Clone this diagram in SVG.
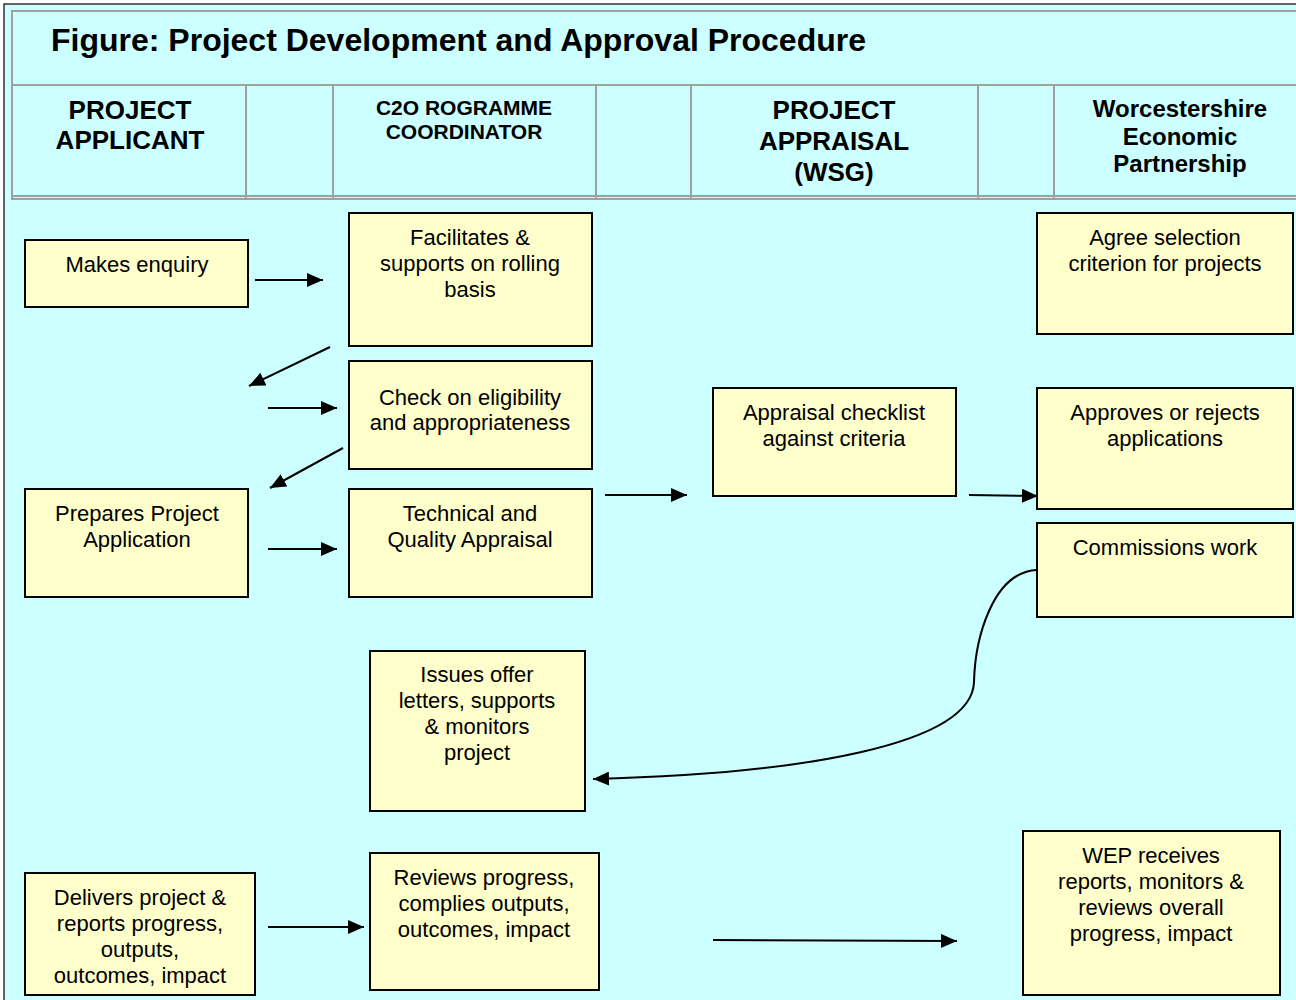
<svg xmlns="http://www.w3.org/2000/svg" width="1296" height="1000" viewBox="0 0 1296 1000">
<style>
  .box { fill: #FFFFCC; stroke: #000; stroke-width: 2; }
  .t { font-family: "Liberation Sans", Arial, sans-serif; font-size: 22px; fill: #000; text-anchor: middle; }
  .h { font-family: "Liberation Sans", Arial, sans-serif; font-weight: bold; fill: #000; text-anchor: middle; }
  .title { font-family: "Liberation Sans", Arial, sans-serif; font-weight: bold; font-size: 32px; fill: #000; text-anchor: start; }
  .grid { stroke: #A0A0A0; stroke-width: 2; fill: none; }
  .con { stroke: #000; stroke-width: 2; fill: none; marker-end: url(#ah); }
</style>
<defs>
  <marker id="ah" markerUnits="userSpaceOnUse" markerWidth="16" markerHeight="14" refX="16" refY="7" orient="auto">
    <path d="M0,0 L16,7 L0,14 z" fill="#000"/>
  </marker>
</defs>
<rect x="0" y="0" width="1296" height="1000" fill="#FFFFFF"/>
<rect x="4" y="4" width="1300" height="1000" fill="#CCFFFF" stroke="#333" stroke-width="1.5"/>
<g id="table">
  <rect class="grid" x="12" y="11" width="1290" height="188"/>
  <line class="grid" x1="12" y1="85" x2="1296" y2="85"/>
  <line class="grid" x1="12" y1="196" x2="1296" y2="196" stroke-width="1"/>
  <line class="grid" x1="246" y1="85" x2="246" y2="199"/>
  <line class="grid" x1="333" y1="85" x2="333" y2="199"/>
  <line class="grid" x1="596" y1="85" x2="596" y2="199"/>
  <line class="grid" x1="691" y1="85" x2="691" y2="199"/>
  <line class="grid" x1="978" y1="85" x2="978" y2="199"/>
  <line class="grid" x1="1054" y1="85" x2="1054" y2="199"/>
  <text class="title" x="51" y="51">Figure: Project Development and Approval Procedure</text>
  <text class="h" x="130" y="119" font-size="26">PROJECT</text>
  <text class="h" x="130" y="149" font-size="26">APPLICANT</text>
  <text class="h" x="464" y="115" font-size="21">C2O ROGRAMME</text>
  <text class="h" x="464" y="139" font-size="21">COORDINATOR</text>
  <text class="h" x="834" y="119" font-size="26">PROJECT</text>
  <text class="h" x="834" y="150" font-size="26">APPRAISAL</text>
  <text class="h" x="834" y="181" font-size="26">(WSG)</text>
  <text class="h" x="1180" y="117" font-size="24">Worcestershire</text>
  <text class="h" x="1180" y="145" font-size="24">Economic</text>
  <text class="h" x="1180" y="172" font-size="24">Partnership</text>
</g>
<g id="connectors">
  <line class="con" x1="255" y1="280" x2="323" y2="280"/>
  <line class="con" x1="330" y1="347" x2="249" y2="386"/>
  <line class="con" x1="268" y1="408" x2="337" y2="408"/>
  <line class="con" x1="343" y1="448" x2="270" y2="488"/>
  <line class="con" x1="268" y1="549" x2="337" y2="549"/>
  <line class="con" x1="605" y1="495" x2="687" y2="495"/>
  <line class="con" x1="969" y1="495" x2="1038" y2="496"/>
  <path class="con" d="M1037,570 C992,572 975,640 974,682 C972,745 800,774 593,779"/>
  <line class="con" x1="268" y1="927" x2="364" y2="927"/>
  <line class="con" x1="713" y1="940" x2="957" y2="941"/>
</g>
<g id="n-enquiry">
  <rect class="box" x="25" y="240" width="223" height="67"/>
  <text class="t" x="137" y="272">Makes enquiry</text>
</g>
<g id="n-facilitates">
  <rect class="box" x="349" y="213" width="243" height="133"/>
  <text class="t" x="470" y="245">Facilitates &amp;</text>
  <text class="t" x="470" y="271">supports on rolling</text>
  <text class="t" x="470" y="297">basis</text>
</g>
<g id="n-check">
  <rect class="box" x="349" y="361" width="243" height="108"/>
  <text class="t" x="470" y="405" font-size="21">Check on eligibility</text>
  <text class="t" x="470" y="430" font-size="21">and appropriateness</text>
</g>
<g id="n-prepares">
  <rect class="box" x="25" y="489" width="223" height="108"/>
  <text class="t" x="137" y="521">Prepares Project</text>
  <text class="t" x="137" y="547">Application</text>
</g>
<g id="n-technical">
  <rect class="box" x="349" y="489" width="243" height="108"/>
  <text class="t" x="470" y="521">Technical and</text>
  <text class="t" x="470" y="547">Quality Appraisal</text>
</g>
<g id="n-appraisal">
  <rect class="box" x="713" y="388" width="243" height="108"/>
  <text class="t" x="834" y="420">Appraisal checklist</text>
  <text class="t" x="834" y="446">against criteria</text>
</g>
<g id="n-agree">
  <rect class="box" x="1037" y="213" width="256" height="121"/>
  <text class="t" x="1165" y="245">Agree selection</text>
  <text class="t" x="1165" y="271">criterion for projects</text>
</g>
<g id="n-approves">
  <rect class="box" x="1037" y="388" width="256" height="121"/>
  <text class="t" x="1165" y="420">Approves or rejects</text>
  <text class="t" x="1165" y="446">applications</text>
</g>
<g id="n-commissions">
  <rect class="box" x="1037" y="523" width="256" height="94"/>
  <text class="t" x="1165" y="555">Commissions work</text>
</g>
<g id="n-issues">
  <rect class="box" x="370" y="651" width="215" height="160"/>
  <text class="t" x="477" y="682">Issues offer</text>
  <text class="t" x="477" y="708">letters, supports</text>
  <text class="t" x="477" y="734">&amp; monitors</text>
  <text class="t" x="477" y="760">project</text>
</g>
<g id="n-delivers">
  <rect class="box" x="25" y="873" width="230" height="122"/>
  <text class="t" x="140" y="905">Delivers project &amp;</text>
  <text class="t" x="140" y="931">reports progress,</text>
  <text class="t" x="140" y="957">outputs,</text>
  <text class="t" x="140" y="983">outcomes, impact</text>
</g>
<g id="n-reviews">
  <rect class="box" x="370" y="853" width="229" height="137"/>
  <text class="t" x="484" y="885">Reviews progress,</text>
  <text class="t" x="484" y="911">complies outputs,</text>
  <text class="t" x="484" y="937">outcomes, impact</text>
</g>
<g id="n-wep">
  <rect class="box" x="1023" y="831" width="257" height="164"/>
  <text class="t" x="1151" y="863">WEP receives</text>
  <text class="t" x="1151" y="889">reports, monitors &amp;</text>
  <text class="t" x="1151" y="915">reviews overall</text>
  <text class="t" x="1151" y="941">progress, impact</text>
</g>
</svg>
